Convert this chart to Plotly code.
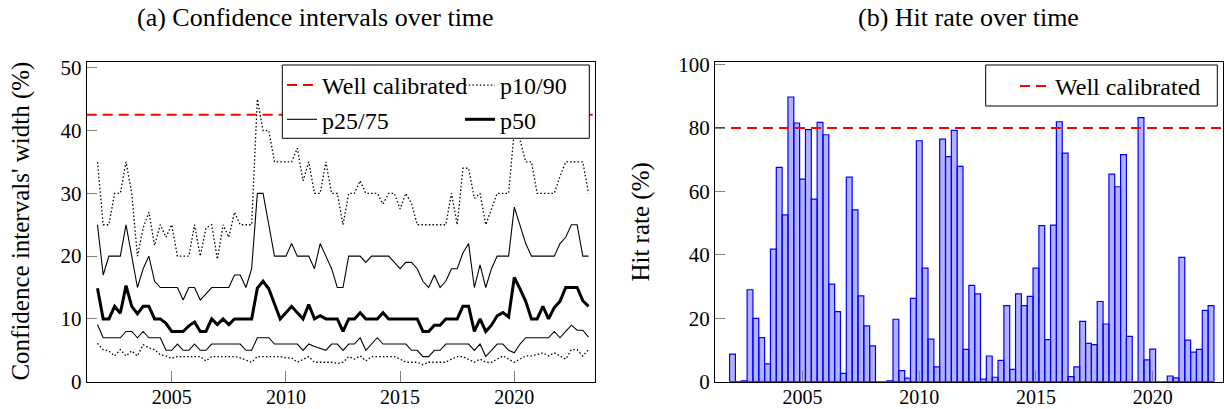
import numpy as np
import pandas as pd
import plotly.graph_objects as go

# ---------------- data ----------------
ci_quarters = pd.period_range("2001Q4", "2023Q2", freq="Q")   # 87 quarters
hit_quarters = pd.period_range("2002Q1", "2022Q3", freq="Q")  # 83 quarters

p10 = [6.1, 5.1, 4.9, 4.1, 5.1, 4.1, 4.9, 4.1, 5.9, 5.4, 5.1, 4.3, 4.1, 3.7, 4.0, 4.0, 4.0, 4.0, 4.0, 3.3,
       4.0, 4.0, 4.0, 4.0, 4.0, 3.8, 3.5, 3.1, 4.0, 4.0, 4.0, 4.0, 4.0, 3.8, 3.8, 3.1, 3.5, 4.0, 3.1, 3.1,
       3.1, 3.1, 2.9, 3.1, 4.0, 3.6, 4.1, 3.3, 4.0, 4.0, 4.0, 4.0, 4.0, 3.6, 3.1, 3.1, 3.1, 2.7, 3.1, 3.1,
       3.1, 3.1, 3.6, 4.0, 4.0, 3.6, 3.1, 3.6, 3.1, 3.1, 3.6, 4.1, 3.6, 3.1, 3.6, 4.1, 4.1, 4.3, 4.6, 4.1,
       4.6, 4.1, 3.6, 5.1, 5.1, 4.1, 5.1]
p25 = [9.1, 7, 7, 7, 7, 8, 8, 7, 8, 7, 7, 7, 5, 5, 6, 5, 5, 6, 5, 5,
       6, 6, 6, 6, 6, 6, 5, 5, 7, 7, 7, 6, 6, 6, 6, 6, 5, 6, 5.6, 5.3,
       5, 6, 6, 5, 6, 6, 7, 5, 6, 7, 6, 6, 6, 6, 6, 5, 5, 4, 4, 5,
       5, 6, 6, 6, 6, 6, 5, 6, 4, 5, 6, 6, 5, 4.6, 6, 7, 7, 7, 7, 7,
       8, 7, 8, 9, 8.2, 8.2, 7.1]
p50 = [14.9, 10, 10, 12, 10.9, 15.3, 12, 10.8, 12, 12, 10, 10, 9.3, 8, 8, 8, 8.9, 9.5, 8, 8,
       10, 9.1, 10, 9.1, 10, 10, 10, 10, 14.9, 16, 14.8, 12.5, 10, 11, 12, 11, 10, 12.3, 10, 10.5,
       10, 10, 10, 8, 10, 10, 11, 10, 10, 10, 11, 10, 10, 10, 10, 10, 10, 8, 8, 9,
       9, 10, 10, 10, 12, 12, 8, 10, 8, 9, 10.5, 11, 10.3, 16.6, 14.8, 12.8, 10, 10, 12, 10,
       11.8, 12.8, 15, 15, 15, 12.9, 12]
p75 = [25, 17, 20, 20, 20, 25, 20, 15, 18, 20, 16, 15, 15, 15, 15, 13, 15, 15, 13, 14,
       15, 15, 15, 15, 17, 17, 15, 18, 30, 30, 25, 20, 20, 20, 22, 20, 20, 20, 18, 22,
       20, 18, 15, 15, 20, 20, 20, 19, 20, 20, 20, 20, 19, 18, 19, 19, 18, 16, 15, 17,
       15, 16, 18, 18, 20.5, 22, 15, 18.6, 15, 18, 20, 20, 20, 27.8, 25, 22, 20, 20, 20, 20,
       20, 22, 23, 25, 25, 20, 20]
p90 = [35, 25, 25, 30, 30, 35, 30, 20, 24.5, 27, 21.7, 25, 23, 25, 20, 20, 20, 25, 20, 24.5,
       25, 19.5, 25, 23, 27, 25, 25, 25, 45, 40, 40, 35, 35, 35, 35, 37.2, 32, 35, 30, 30,
       35, 30, 30, 25, 30, 30, 32, 30, 30, 30, 28.3, 30, 30, 27.5, 30, 28.4, 25, 25, 25, 25,
       25, 25, 30, 25, 34, 34, 29.2, 30, 25, 27.5, 30, 30, 30, 40, 38.5, 35, 35, 30, 30, 30,
       30, 32.7, 35, 35, 35, 35, 30]

hit_rate = [8.7, 0, 0.3, 29, 20, 13.9, 5.6, 41.8, 67.6, 52.6, 89.8, 81.6, 63.9, 79.5, 57.6, 81.8, 77.9, 30.8, 22.1, 2.6,
            64.5, 54.2, 27.1, 17.6, 11.3, 0, 0, 0.3, 19.7, 3.5, 1.1, 26.3, 76, 35.8, 13.4, 4.7, 76.5, 71, 79.3, 67.9,
            10.2, 30.4, 27.7, 0.8, 8.1, 1.4, 6.7, 24, 3.9, 27.7, 24, 26.9, 35.8, 49.2, 13.3, 49.4, 82, 72.1, 1.6, 4.7,
            19, 12.1, 11.7, 25.3, 18.2, 65.5, 61.5, 71.6, 14.3, 0, 83.3, 6.9, 10.3, 0, 0, 1.8, 1.2, 39.2, 13.1, 9.3,
            10.2, 22.5, 24]

well_calibrated_ci = 42.5
well_calibrated_hit = 80
x_tick_years = [2005, 2010, 2015, 2020]
ci_yticks = [0, 10, 20, 30, 40, 50]
hit_yticks = [0, 20, 40, 60, 80, 100]

ci_xrange = [2001.278, 2023.533]
hit_xrange = [2001.25, 2023.0]

ci_x = ci_quarters.year + (ci_quarters.quarter - 1) / 4.0
hit_x = hit_quarters.year + (hit_quarters.quarter - 1) / 4.0

# ---------------- figure ----------------
W, H = 1225, 409
FONT = "Liberation Serif"


def px(x):
    return x / W


def py(y):
    return 1 - y / H


fig = go.Figure()

# left panel
fig.add_trace(go.Scatter(x=ci_xrange, y=[well_calibrated_ci] * 2, mode="lines", name="Well calibrated",
                         line=dict(color="red", width=2, dash="10px,6px"),
                         legend="legend", legendgroup="wc", xaxis="x", yaxis="y"))
fig.add_trace(go.Scatter(x=ci_x, y=p90, mode="lines", name="p10/90",
                         line=dict(color="black", width=1.3, dash="1.5px,2.2px"),
                         legend="legend2", legendgroup="p1090", xaxis="x", yaxis="y"))
fig.add_trace(go.Scatter(x=ci_x, y=p10, mode="lines", name="p10/90", showlegend=False,
                         line=dict(color="black", width=1.3, dash="1.5px,2.2px"),
                         legend="legend2", legendgroup="p1090", xaxis="x", yaxis="y"))
fig.add_trace(go.Scatter(x=ci_x, y=p75, mode="lines", name="p25/75",
                         line=dict(color="black", width=1.1),
                         legend="legend", legendgroup="p2575", xaxis="x", yaxis="y"))
fig.add_trace(go.Scatter(x=ci_x, y=p25, mode="lines", name="p25/75", showlegend=False,
                         line=dict(color="black", width=1.1),
                         legend="legend", legendgroup="p2575", xaxis="x", yaxis="y"))
fig.add_trace(go.Scatter(x=ci_x, y=p50, mode="lines", name="p50",
                         line=dict(color="black", width=3),
                         legend="legend2", legendgroup="p50", xaxis="x", yaxis="y"))

# right panel
fig.add_trace(go.Bar(x=hit_x, y=hit_rate, width=0.25, showlegend=False,
                     marker=dict(color="rgba(0,0,255,0.3)", line=dict(color="blue", width=1.2)),
                     xaxis="x2", yaxis="y2"))
fig.add_trace(go.Scatter(x=hit_xrange, y=[well_calibrated_hit] * 2, mode="lines", name="Well calibrated",
                         line=dict(color="red", width=2, dash="10px,6px"),
                         legend="legend3", xaxis="x2", yaxis="y2"))

ydom = [py(381.7), py(61.5)]
axis_common = dict(showline=True, linecolor="black", linewidth=1, mirror=True, showgrid=False,
                   zeroline=False, ticks="inside", tickcolor="#7f7f7f", tickwidth=1, automargin=False)
tick_font = dict(family=FONT, size=21, color="black")
xtick_font = dict(family=FONT, size=20, color="black")
legend_font = dict(family=FONT, size=24, color="black")

fig.update_layout(
    template="none",
    width=W, height=H, margin=dict(l=0, r=0, t=0, b=0, pad=0),
    font=dict(family=FONT, size=21, color="black"),
    paper_bgcolor="white", plot_bgcolor="white",
    barmode="overlay",
    xaxis=dict(domain=[px(86.7), px(595)], range=ci_xrange, tickvals=x_tick_years,
               ticklen=11, anchor="y", tickfont=xtick_font, ticklabelstandoff=-3, **axis_common),
    yaxis=dict(domain=ydom, range=[0, 51], tickvals=ci_yticks, ticklen=10, anchor="x",
               tickfont=tick_font, **axis_common),
    xaxis2=dict(domain=[px(715), px(1222.7)], range=hit_xrange, tickvals=x_tick_years,
                ticklen=11, anchor="y2", tickfont=xtick_font, ticklabelstandoff=-3, **axis_common),
    yaxis2=dict(domain=ydom, range=[0, 101], tickvals=hit_yticks, ticklen=10, anchor="x2",
                tickfont=tick_font, **axis_common),
    legend=dict(x=px(282), y=py(63), xanchor="left", yanchor="top", bgcolor="rgba(0,0,0,0)",
                borderwidth=0, font=legend_font, traceorder="grouped", tracegroupgap=0),
    legend2=dict(x=px(460), y=py(63), xanchor="left", yanchor="top", bgcolor="rgba(0,0,0,0)",
                 borderwidth=0, font=legend_font, traceorder="grouped", tracegroupgap=0),
    legend3=dict(x=px(1015), y=py(64), xanchor="left", yanchor="top", bgcolor="rgba(0,0,0,0)",
                 borderwidth=0, font=legend_font),
    shapes=[
        dict(type="rect", xref="paper", yref="paper", x0=px(282.3), x1=px(589.3), y0=py(138.3), y1=py(65),
             fillcolor="white", line=dict(color="black", width=1), layer="above"),
        dict(type="rect", xref="paper", yref="paper", x0=px(985.7), x1=px(1217.3), y0=py(106), y1=py(65),
             fillcolor="white", line=dict(color="black", width=1), layer="above"),
    ],
    annotations=[
        dict(text="(a) Confidence intervals over time", xref="paper", yref="paper", xanchor="center",
             yanchor="middle", x=px(315.5), y=py(18), showarrow=False,
             font=dict(family=FONT, size=26, color="black")),
        dict(text="(b) Hit rate over time", xref="paper", yref="paper", xanchor="center",
             yanchor="middle", x=px(968.5), y=py(18), showarrow=False,
             font=dict(family=FONT, size=26, color="black")),
        dict(text="Confidence intervals' width (%)", xref="paper", yref="paper", textangle=-90,
             xanchor="center", yanchor="middle",
             x=px(21), y=py(221.6), showarrow=False, font=dict(family=FONT, size=25, color="black")),
        dict(text="Hit rate (%)", xref="paper", yref="paper", textangle=-90,
             xanchor="center", yanchor="middle",
             x=px(641), y=py(221.6), showarrow=False, font=dict(family=FONT, size=25, color="black")),
    ],
)

fig.write_html("out.html")
